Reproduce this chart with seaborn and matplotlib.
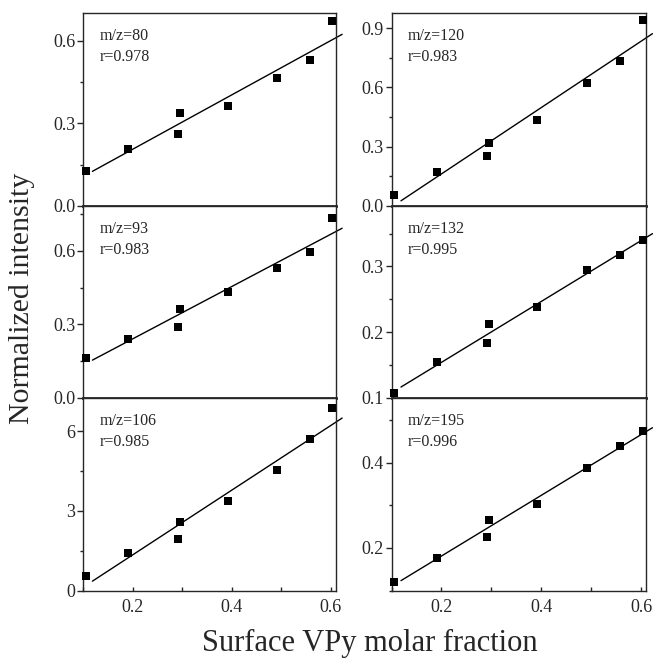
import numpy as np
import pandas as pd
import matplotlib
matplotlib.use("Agg")
import matplotlib.pyplot as plt
from matplotlib.ticker import MultipleLocator, FormatStrFormatter
import seaborn as sns

# ---------------- data ----------------
x_frac = [0.106, 0.191, 0.292, 0.296, 0.392, 0.492, 0.558, 0.603]
mz80 = [0.127, 0.207, 0.262, 0.336, 0.362, 0.464, 0.528, 0.670]
mz120 = [0.057, 0.171, 0.254, 0.320, 0.435, 0.621, 0.732, 0.941]
mz93 = [0.164, 0.241, 0.291, 0.362, 0.431, 0.528, 0.593, 0.732]
mz132 = [0.108, 0.154, 0.184, 0.2125, 0.238, 0.2945, 0.317, 0.341]
mz106 = [0.54, 1.40, 1.95, 2.59, 3.36, 4.52, 5.70, 6.86]
mz195 = [0.121, 0.177, 0.226, 0.265, 0.303, 0.388, 0.439, 0.4755]

labels_mz = ["m/z=80", "m/z=120", "m/z=93", "m/z=132", "m/z=106", "m/z=195"]
labels_r = ["r=0.978", "r=0.983", "r=0.983", "r=0.995", "r=0.985", "r=0.996"]
series = [mz80, mz120, mz93, mz132, mz106, mz195]
fit_range = [0.119, 0.623]

# ---------------- styling ----------------
sns.set_style("ticks")
plt.rcParams["font.family"] = ["Liberation Serif", "DejaVu Serif"]
plt.rcParams["axes.linewidth"] = 1.0

W, H = 653, 660
fig = plt.figure(figsize=(W / 100, H / 100), dpi=100)

cols = [(83, 335.7), (391.5, 646)]
rows = [(13, 206), (206, 398), (398, 590.5)]

ylims = [(0, 0.70), (0, 0.977), (0, 0.782), (0.1, 0.392), (0, 7.25), (0.1, 0.552)]
majors = [0.3, 0.3, 0.3, 0.1, 3, 0.2]
minors = [0.15, 0.15, 0.15, 0.05, 1.5, 0.1]
fmts = ["%.1f", "%.1f", "%.1f", "%.1f", "%d", "%.1f"]

for i, ys in enumerate(series):
    r, c = divmod(i, 2)
    x0, x1 = cols[c]
    yt, yb = rows[r]
    ax = fig.add_axes([x0 / W, 1 - yb / H, (x1 - x0) / W, (yb - yt) / H])
    df = pd.DataFrame({"x": x_frac, "y": ys})
    sns.scatterplot(data=df, x="x", y="y", ax=ax, marker="s", s=30,
                    color="black", edgecolor="black", linewidth=0, zorder=3,
                    clip_on=False)
    k, b = np.polyfit(x_frac, ys, 1)
    fx = np.array(fit_range)
    fit_df = pd.DataFrame({"x": fx, "y": k * fx + b})
    sns.lineplot(data=fit_df, x="x", y="y", ax=ax, color="black", lw=1.0)
    for ln in ax.get_lines():
        ln.set_clip_on(False)
    ax.set_xlim(0.1, 0.61)
    ax.set_ylim(*ylims[i])
    ax.set_xlabel("")
    ax.set_ylabel("")
    ax.yaxis.set_major_locator(MultipleLocator(majors[i]))
    ax.yaxis.set_minor_locator(MultipleLocator(minors[i]))
    ax.yaxis.set_major_formatter(FormatStrFormatter(fmts[i]))
    ax.tick_params(axis="y", which="major", direction="out", length=4,
                   width=1, pad=1.5, labelsize=13)
    ax.tick_params(axis="y", which="minor", direction="out", length=2, width=1)
    ax.xaxis.set_major_locator(MultipleLocator(0.2))
    ax.xaxis.set_minor_locator(MultipleLocator(0.1))
    ax.xaxis.set_major_formatter(FormatStrFormatter("%.1f"))
    if r < 2:
        ax.tick_params(axis="x", which="both", length=0, labelbottom=False)
        ax.spines["bottom"].set_linewidth(2.0)
    else:
        ax.tick_params(axis="x", which="major", direction="in", length=3,
                       width=1, pad=6, labelsize=13)
        ax.tick_params(axis="x", which="minor", direction="in", length=3, width=1)
    for s in ["left", "top", "right"]:
        ax.spines[s].set_visible(True)
        ax.spines[s].set_linewidth(1.0)
    ax.set_facecolor("white")
    hpx = yb - yt
    ax.text(0.065, 1 - 27 / hpx, labels_mz[i], transform=ax.transAxes,
            ha="left", va="baseline", fontsize=11.5)
    ax.text(0.065, 1 - 48 / hpx, labels_r[i], transform=ax.transAxes,
            ha="left", va="baseline", fontsize=11.5)

fig.text(22.5 / W, 1 - 298 / H, "Normalized intensity", rotation=90,
         ha="center", va="center", fontsize=21.5)
fig.text(370 / W, 1 - 651 / H, "Surface VPy molar fraction",
         ha="center", va="baseline", fontsize=22)

fig.savefig("out.png", dpi=100, facecolor="white")
